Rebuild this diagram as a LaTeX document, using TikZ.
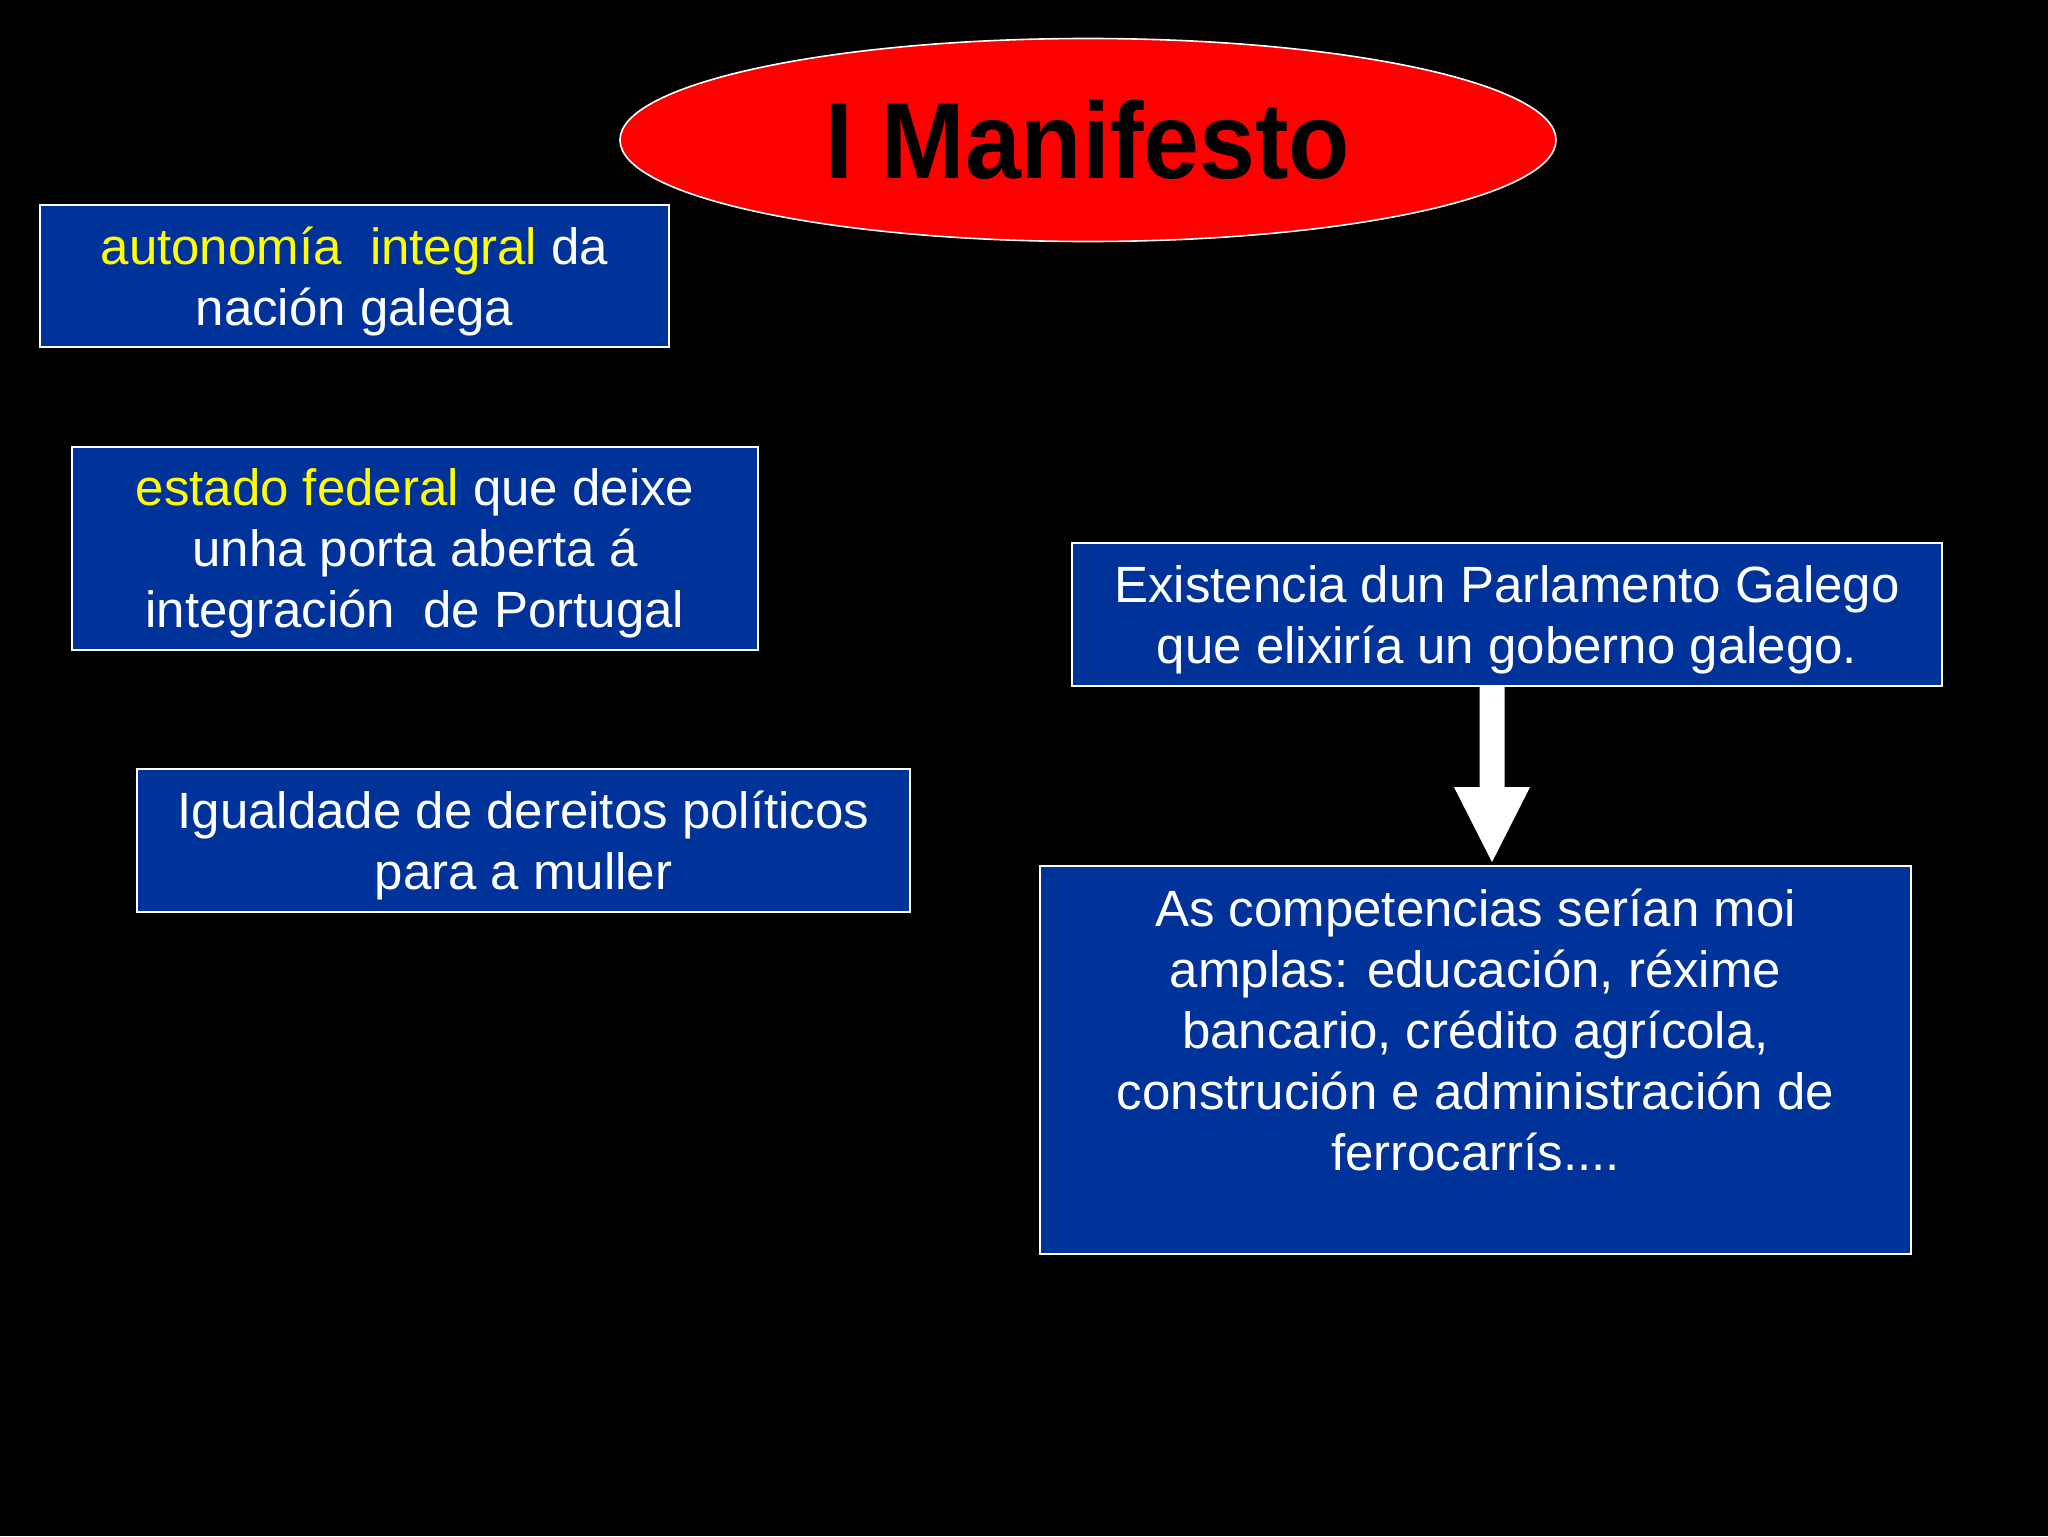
\documentclass[tikz,border=0pt]{standalone}
\usepackage{fontspec}
\setmainfont{Liberation Sans}
\usetikzlibrary{shapes.geometric,calc}
\definecolor{boxblue}{RGB}{0,51,153}
\definecolor{hiyel}{RGB}{255,255,0}
\begin{document}
\begin{tikzpicture}[x=0.5pt,y=-0.5pt,
  infobox/.style={draw=white,line width=0.9pt,fill=boxblue,text=white,align=center,
    inner sep=0pt,font=\fontsize{25.5}{30.5}\selectfont},
  lowtext/.style={text depth=-2.5pt}]
\useasboundingbox[fill=black] (0,0) rectangle (2048,1536);
\node[ellipse,draw=white,line width=0.8pt,fill=red,inner sep=0pt,
  minimum width=468pt,minimum height=101.5pt] (title) at (1088,140)
  {\raisebox{-1.5pt}{\scalebox{0.93}[1]{\fontsize{54}{60}\selectfont\bfseries I Manifesto}}};
\node[infobox,lowtext,minimum width=314.5pt,minimum height=71pt] (b1) at (354.5,276)
  {\textcolor{hiyel}{autonomía\ \ integral} da\\nación galega};
\node[infobox,lowtext,minimum width=343pt,minimum height=101.5pt] (b2) at (415,548.5)
  {\textcolor{hiyel}{estado federal} que deixe\\unha porta aberta á\\integración\ \ de Portugal};
\node[infobox,lowtext,minimum width=386.5pt,minimum height=71.5pt] (b3) at (523.5,840.5)
  {Igualdade de dereitos políticos\\para a muller};
\node[infobox,lowtext,minimum width=435pt,minimum height=71.5pt] (b4) at (1507,614.5)
  {Existencia dun Parlamento Galego\\que elixiría un goberno galego.};
\node[infobox,minimum width=435.5pt,minimum height=194pt] (b5) at (1475.5,1060)
  {As competencias serían moi\\amplas: educación, réxime\\bancario, crédito agrícola,\\construción e administración de\\ferrocarrís....\\\mbox{}};
\coordinate (ax) at (1492,0);
\fill[white] ($(ax |- b4.south)+(-12.5,0)$) -- ($(ax |- b4.south)+(12.5,0)$)
  -- ($(ax |- b5.north)+(12.5,-78)$) -- ($(ax |- b5.north)+(38,-78)$)
  -- ($(ax |- b5.north)+(0,-3)$) -- ($(ax |- b5.north)+(-38,-78)$)
  -- ($(ax |- b5.north)+(-12.5,-78)$) -- cycle;
\end{tikzpicture}
\end{document}
